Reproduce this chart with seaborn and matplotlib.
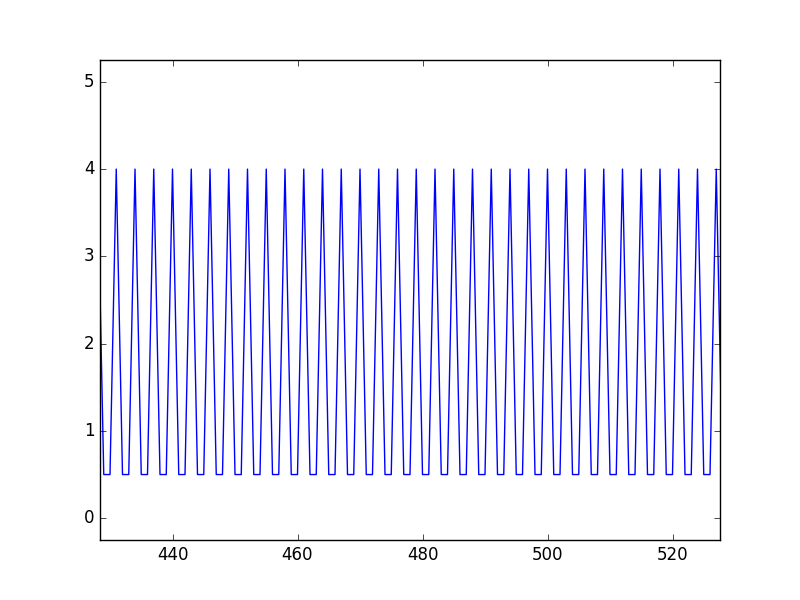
import matplotlib
matplotlib.use("Agg")
import matplotlib.pyplot as plt
import seaborn as sns
import pandas as pd

# --- Data: one sample per integer x, cycle 4 / 0.5 / 0.5 ---
x_values = list(range(428, 529))
y_values = [
    4, 0.5, 0.5, 4, 0.5, 0.5, 4, 0.5, 0.5, 4, 0.5, 0.5, 4, 0.5, 0.5, 4, 0.5, 0.5,
    4, 0.5, 0.5, 4, 0.5, 0.5, 4, 0.5, 0.5, 4, 0.5, 0.5, 4, 0.5, 0.5, 4, 0.5, 0.5,
    4, 0.5, 0.5, 4, 0.5, 0.5, 4, 0.5, 0.5, 4, 0.5, 0.5, 4, 0.5, 0.5, 4, 0.5, 0.5,
    4, 0.5, 0.5, 4, 0.5, 0.5, 4, 0.5, 0.5, 4, 0.5, 0.5, 4, 0.5, 0.5, 4, 0.5, 0.5,
    4, 0.5, 0.5, 4, 0.5, 0.5, 4, 0.5, 0.5, 4, 0.5, 0.5, 4, 0.5, 0.5, 4, 0.5, 0.5,
    4, 0.5, 0.5, 4, 0.5, 0.5, 4, 0.5, 0.5, 4, 0.5,
]
x_ticks = [440, 460, 480, 500, 520]
y_ticks = [0, 1, 2, 3, 4, 5]

df = pd.DataFrame({"x": x_values, "y": y_values})

# --- Old matplotlib look ---
plt.style.use("classic")
plt.rcParams["font.family"] = ["DejaVu Sans"]

fig = plt.figure(figsize=(8, 6), dpi=100, facecolor="white")
ax = fig.add_axes([0.125, 0.1, 0.775, 0.8])
ax.set_facecolor("white")

sns.lineplot(data=df, x="x", y="y", ax=ax, color="b", linewidth=1.0,
             estimator=None, sort=False)

ax.set_xlim(428.4, 527.6)
ax.set_ylim(-0.25, 5.25)
ax.set_xticks(x_ticks)
ax.set_yticks(y_ticks)
ax.set_xlabel("")
ax.set_ylabel("")
ax.tick_params(direction="in", top=True, right=True, labelsize=12)

fig.savefig("out.png", dpi=100, facecolor="white")
